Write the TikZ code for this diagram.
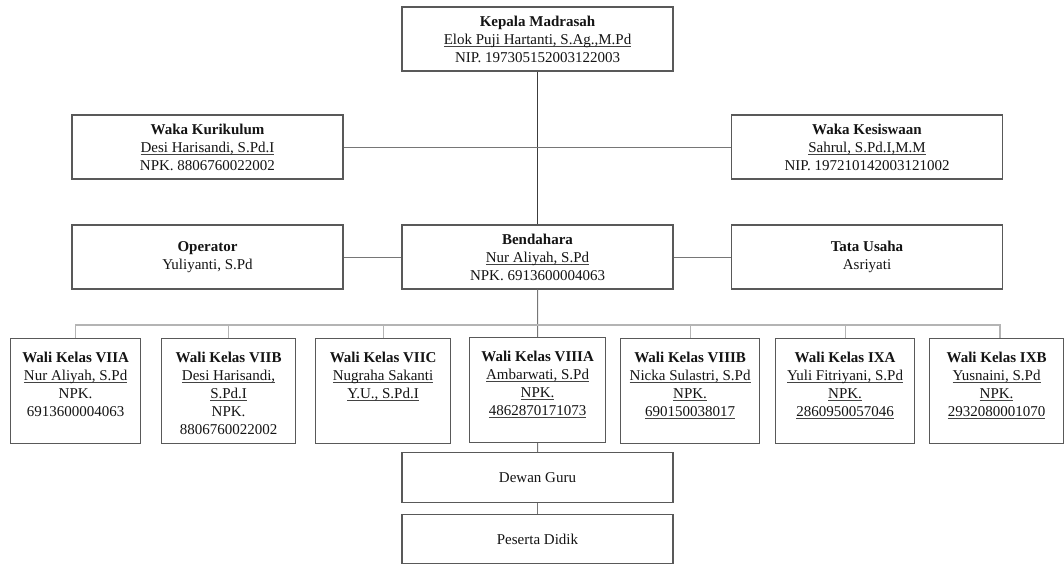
\documentclass[tikz,border=0pt]{standalone}
\usepackage{fontspec}
\setmainfont{Liberation Serif}
\newsavebox\unbox
\newcommand\un[1]{\leavevmode\sbox\unbox{#1}\rlap{\color{txt!80}\rule[-1.7pt]{\wd\unbox}{0.6pt}}\usebox\unbox}
\definecolor{boxc}{HTML}{595959}
\definecolor{darkln}{HTML}{3C3C3C}
\definecolor{midln}{HTML}{767676}
\definecolor{lightln}{HTML}{B4B4B4}
\definecolor{txt}{HTML}{141414}
\newcommand\wtext[2]{\parbox[c][78.75pt][t]{#1}{\centering\vspace*{8.5pt}#2}}
\tikzset{
  base/.style={draw=boxc, line width=0.9pt, text=txt, font=\fontsize{11.25}{13.5}\selectfont, fill=white},
  cbox/.style={base, align=center, minimum width=203.25pt, minimum height=48pt, inner sep=0pt},
  lbox/.style={base, align=center, minimum width=203.25pt, minimum height=37pt, inner sep=0pt},
  wbox/.style={base, inner sep=0pt, anchor=north west},
  darkline/.style={draw=darkln, line width=0.75pt},
  midline/.style={draw=midln, line width=0.75pt},
  busline/.style={draw=lightln, line width=0.9pt}
}
\begin{document}
\begin{tikzpicture}[x=0.75pt,y=-0.75pt]
\useasboundingbox (0,0) rectangle (1064,565);
\coordinate (busL) at (75,325);
\coordinate (busR) at (1000,325);
% boxes
\node[cbox] (kepala) at (537.5,39) {\textbf{Kepala Madrasah}\\\un{Elok Puji Hartanti, S.Ag.,M.Pd}\\NIP. 197305152003122003};
\node[cbox] (wk) at (207.5,147) {\textbf{Waka Kurikulum}\\\un{Desi Harisandi, S.Pd.I}\\NPK. 8806760022002};
\node[cbox] (wks) at (867,147) {\textbf{Waka Kesiswaan}\\\un{Sahrul, S.Pd.I,M.M}\\NIP. 197210142003121002};
\node[cbox] (op) at (207.5,257) {\textbf{Operator}\\Yuliyanti, S.Pd};
\node[cbox] (bend) at (537.5,257) {\textbf{Bendahara}\\\un{Nur Aliyah, S.Pd}\\NPK. 6913600004063};
\node[cbox] (tu) at (867,257) {\textbf{Tata Usaha}\\Asriyati};
\node[wbox] (w1) at (10,338) {\wtext{97.5pt}{\strut\textbf{Wali Kelas VIIA}\\\un{Nur Aliyah, S.Pd}\\NPK.\\6913600004063}};
\node[wbox] (w2) at (161,338) {\wtext{100.5pt}{\strut\textbf{Wali Kelas VIIB}\\\un{Desi Harisandi,}\\\un{S.Pd.I}\\NPK.\\8806760022002}};
\node[wbox] (w3) at (315,338) {\wtext{101.25pt}{\strut\textbf{Wali Kelas VIIC}\\\un{Nugraha Sakanti}\\\un{Y.U., S.Pd.I}}};
\node[wbox] (w4) at (469,337) {\wtext{102pt}{\strut\textbf{Wali Kelas VIIIA}\\\un{Ambarwati, S.Pd}\\\un{NPK.}\\\un{4862870171073}}};
\node[wbox] (w5) at (620,338) {\wtext{104.25pt}{\strut\textbf{Wali Kelas VIIIB}\\\un{Nicka Sulastri, S.Pd}\\\un{NPK.}\\\un{690150038017}}};
\node[wbox] (w6) at (775,338) {\wtext{104.25pt}{\strut\textbf{Wali Kelas IXA}\\\un{Yuli Fitriyani, S.Pd}\\\un{NPK.}\\\un{2860950057046}}};
\node[wbox] (w7) at (929,338) {\wtext{100.5pt}{\strut\textbf{Wali Kelas IXB}\\\un{Yusnaini, S.Pd}\\\un{NPK.}\\\un{2932080001070}}};
\node[lbox] (dewan) at (537.5,477.5) {Dewan Guru};
\node[lbox] (peserta) at (537.5,539) {Peserta Didik};
% connectors
\draw[darkline] (kepala.south) -- (bend.north);
\draw[midline] (wk.east) -- (wks.west);
\draw[midline] (op.east) -- (bend.west);
\draw[midline] (bend.east) -- (tu.west);
\draw[midline] (bend.south) -- (w4.north);
\draw[busline] (w1.north) -- (w1.north |- busL) -- (busR) -- (busR |- w7.north);
\foreach \n in {w2,w3,w5,w6} \draw[busline] (\n.north) -- (\n.north |- busL);
\draw[midline] (w4.south) -- (dewan.north);
\draw[midline] (dewan.south) -- (peserta.north);
\end{tikzpicture}
\end{document}
